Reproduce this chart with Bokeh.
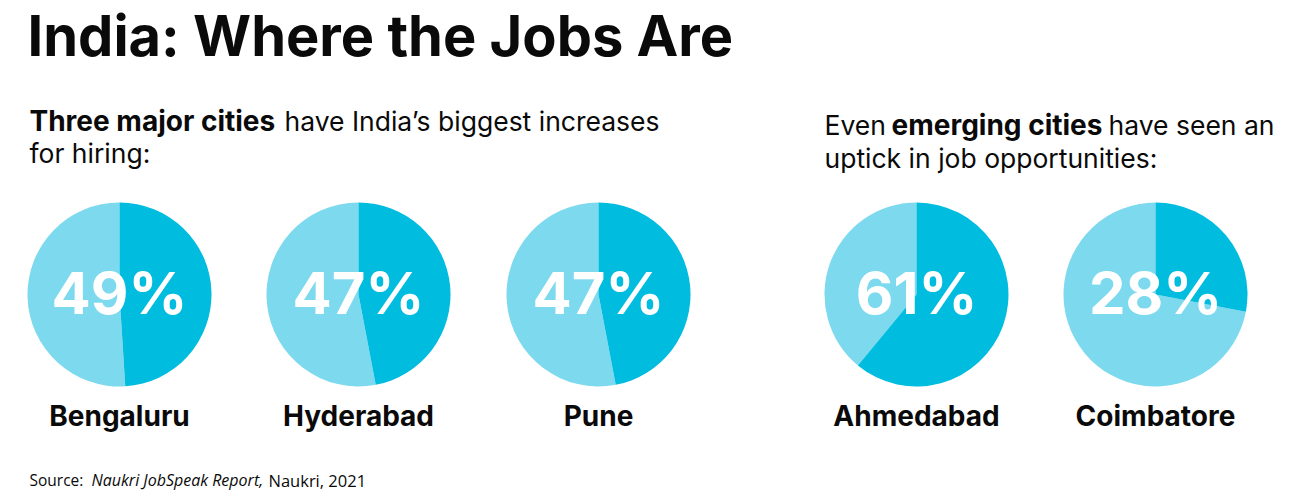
from bokeh.plotting import figure
from bokeh.models import Range1d
from bokeh.core.properties import value
from bokeh.embed import file_html
from bokeh.resources import INLINE
import math

# Share of hiring increase per city (percent)
cities = ["Bengaluru", "Hyderabad", "Pune", "Ahmedabad", "Coimbatore"]
shares = [49, 47, 47, 61, 28]
share_labels = ["49%", "47%", "47%", "61%", "28%"]

title = "India: Where the Jobs Are"
left_bold = "Three major cities"
left_rest = "have India\u2019s biggest increases"
left_line2 = "for hiring:"
right_pre = "Even"
right_bold = "emerging cities"
right_rest = "have seen an"
right_line2 = "uptick in job opportunities:"
source_lead = "Source:"
source_title = "Naukri JobSpeak Report,"
source_tail = "Naukri, 2021"

W, H = 1303, 498
DARK = "#00BCDF"
LIGHT = "#7DD9EE"
INK = "#0a0a0a"

# pie centres and radius in page pixels
centers_x = [119, 358, 598, 916, 1155]
center_y = 294
radius = 92

p = figure(width=W, height=H, output_backend="svg", toolbar_location=None,
           x_range=Range1d(0, W), y_range=Range1d(0, H),
           min_border=0, outline_line_color=None, background_fill_color="white")
p.axis.visible = False
p.grid.visible = False


def py(y):
    return H - y


def label(x, baseline, text, size, font="Inter", style="normal",
          color=INK, align="left"):
    # the svg text sits about 0.39em below the requested anchor; lift it
    p.text(x=[x], y=[py(baseline - 0.39 * size)], text=[text],
           text_font=value(font), text_font_style=style,
           text_font_size=f"{size}px", text_color=color,
           text_align=align, text_baseline="alphabetic")


TOP = math.pi / 2
for cx, s, lab, city in zip(centers_x, shares, share_labels, cities):
    frac = s / 100.0
    split = TOP - frac * 2 * math.pi
    # light remainder: from 12 o'clock anticlockwise round to the split
    p.wedge(x=[cx], y=[py(center_y)], radius=radius, start_angle=[TOP],
            end_angle=[split], direction="anticlock", fill_color=LIGHT,
            line_color=None)
    # dark share: clockwise from 12 o'clock
    p.wedge(x=[cx], y=[py(center_y)], radius=radius, start_angle=[split],
            end_angle=[TOP], direction="anticlock", fill_color=DARK,
            line_color=None)
    label(cx, 315, lab, 58, style="bold", color="white", align="center")
    label(cx, 426, city, 28, style="bold", align="center")

# title
label(27, 57, title, 56, style="bold")

# left intro
label(29, 131, left_bold, 28, style="bold")
label(284, 131, left_rest, 26.5)
label(29, 163, left_line2, 26.5)

# right intro
label(824, 135, right_pre, 26.5)
label(891, 135, right_bold, 28, style="bold")
label(1108, 135, right_rest, 26.5)
label(824, 168, right_line2, 26.5)

# source line
label(29, 486, source_lead, 15.5, font="Open Sans")
label(91, 486, source_title, 16, font="Open Sans", style="italic")
label(268, 486, source_tail, 16.5, font="Open Sans")

open("out.html", "w").write(file_html(p, INLINE))
